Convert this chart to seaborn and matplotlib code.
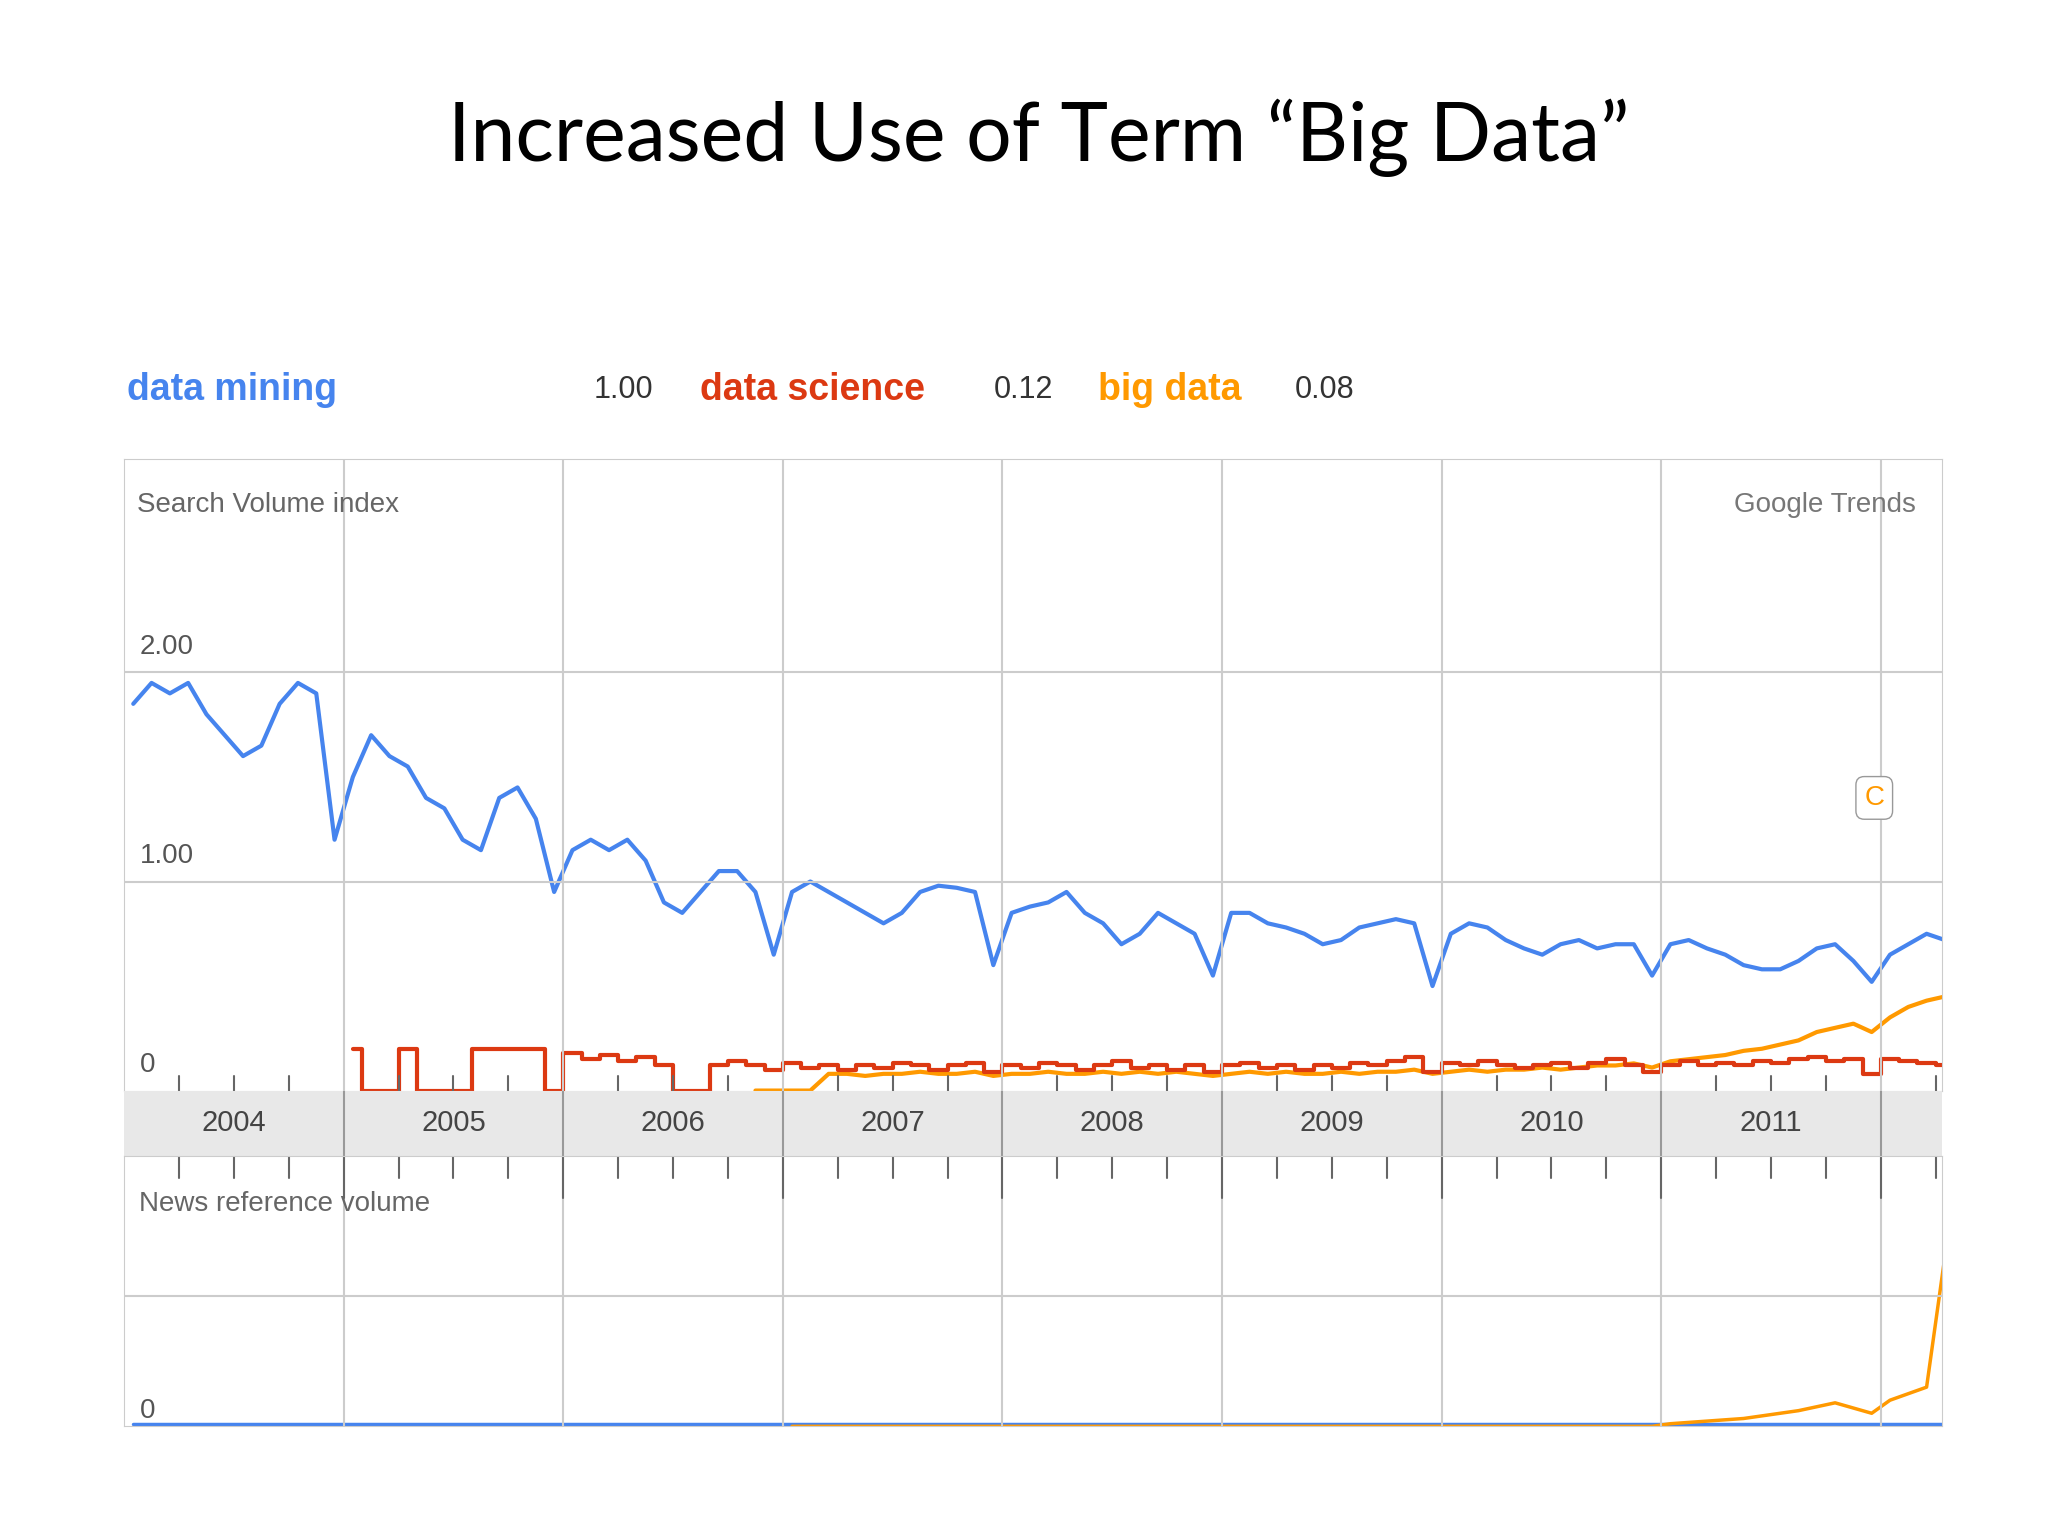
import numpy as np
import pandas as pd
import matplotlib.pyplot as plt
import seaborn as sns

# monthly values (search volume index)
data_mining = [
    1.85, 1.95, 1.90, 1.95, 1.80, 1.70, 1.60, 1.65, 1.85, 1.95, 1.90, 1.20,  # 2004
    1.50, 1.70, 1.60, 1.55, 1.40, 1.35, 1.20, 1.15, 1.40, 1.45, 1.30, 0.95,  # 2005
    1.15, 1.20, 1.15, 1.20, 1.10, 0.90, 0.85, 0.95, 1.05, 1.05, 0.95, 0.65,  # 2006
    0.95, 1.00, 0.95, 0.90, 0.85, 0.80, 0.85, 0.95, 0.98, 0.97, 0.95, 0.60,  # 2007
    0.85, 0.88, 0.90, 0.95, 0.85, 0.80, 0.70, 0.75, 0.85, 0.80, 0.75, 0.55,  # 2008
    0.85, 0.85, 0.80, 0.78, 0.75, 0.70, 0.72, 0.78, 0.80, 0.82, 0.80, 0.50,  # 2009
    0.75, 0.80, 0.78, 0.72, 0.68, 0.65, 0.70, 0.72, 0.68, 0.70, 0.70, 0.55,  # 2010
    0.70, 0.72, 0.68, 0.65, 0.60, 0.58, 0.58, 0.62, 0.68, 0.70, 0.62, 0.52,  # 2011
    0.65, 0.70, 0.75, 0.72,                                                  # 2012
]
data_science = [
    np.nan] * 12 + [
    0.20, 0.00, 0.00, 0.20, 0.00, 0.00, 0.00, 0.20, 0.20, 0.20, 0.20, 0.00,  # 2005
    0.18, 0.15, 0.17, 0.14, 0.16, 0.12, 0.00, 0.00, 0.12, 0.14, 0.12, 0.10,  # 2006
    0.13, 0.11, 0.12, 0.10, 0.12, 0.11, 0.13, 0.12, 0.10, 0.12, 0.13, 0.09,  # 2007
    0.12, 0.11, 0.13, 0.12, 0.10, 0.12, 0.14, 0.11, 0.12, 0.10, 0.12, 0.09,  # 2008
    0.12, 0.13, 0.11, 0.12, 0.10, 0.12, 0.11, 0.13, 0.12, 0.14, 0.16, 0.09,  # 2009
    0.13, 0.12, 0.14, 0.12, 0.11, 0.12, 0.13, 0.11, 0.13, 0.15, 0.12, 0.09,  # 2010
    0.12, 0.14, 0.12, 0.13, 0.12, 0.14, 0.13, 0.15, 0.16, 0.14, 0.15, 0.08,  # 2011
    0.15, 0.14, 0.13, 0.12,                                                  # 2012
]
big_data = [np.nan] * 34 + [
    0.00, 0.00,                                                              # 2006 end
    0.00, 0.00, 0.08, 0.08, 0.07, 0.08, 0.08, 0.09, 0.08, 0.08, 0.09, 0.07,  # 2007
    0.08, 0.08, 0.09, 0.08, 0.08, 0.09, 0.08, 0.09, 0.08, 0.09, 0.08, 0.07,  # 2008
    0.08, 0.09, 0.08, 0.09, 0.08, 0.08, 0.09, 0.08, 0.09, 0.09, 0.10, 0.08,  # 2009
    0.09, 0.10, 0.09, 0.10, 0.10, 0.11, 0.10, 0.11, 0.12, 0.12, 0.13, 0.11,  # 2010
    0.14, 0.15, 0.16, 0.17, 0.19, 0.20, 0.22, 0.24, 0.28, 0.30, 0.32, 0.28,  # 2011
    0.35, 0.40, 0.43, 0.45,                                                  # 2012
]
# news reference volume (arbitrary units)
news_blue = [0.02] * 100
news_orange = [np.nan] * 36 + [0.0] * 12 * 4 + [
    0.02, 0.03, 0.04, 0.05, 0.06, 0.08, 0.10, 0.12, 0.15, 0.18, 0.14, 0.10,  # 2011
    0.20, 0.25, 0.30, 1.30,                                                  # 2012
]

years = [str(y) for y in range(2004, 2012)]
BLUE, RED, ORANGE = "#4684ee", "#dc3912", "#ff9900"

x = 2004 + (np.arange(len(data_mining)) + 0.5) / 12
df = pd.DataFrame({"x": x, "mining": data_mining, "science": data_science,
                   "big": big_data, "news_blue": news_blue, "news_orange": news_orange})

sns.set_style("white")
plt.rcParams["font.family"] = ["Liberation Sans", "DejaVu Sans"]

fig = plt.figure(figsize=(20.48, 15.36), dpi=100)
XMIN, XMAX = 2004.0, 2012.28

fig.text(0.507, 0.91, "Increased Use of Term \u201cBig Data\u201d", ha="center", va="center",
         fontsize=58, family="Lato", color="black")

# legend row
legend = [(0.062, "data mining", BLUE, True), (0.29, "1.00", "#333333", False),
          (0.342, "data science", RED, True), (0.485, "0.12", "#333333", False),
          (0.536, "big data", ORANGE, True), (0.632, "0.08", "#333333", False)]
for xp, txt, col, bold in legend:
    fig.text(xp, 0.746, txt, color=col, fontsize=27 if bold else 22,
             fontweight="bold" if bold else "normal", va="center")

grid_kw = dict(color="#cccccc", lw=1.5)

# top panel
ax = fig.add_axes([0.0606, 0.290, 0.8878, 0.411])
for col, c in [("mining", BLUE), ("big", ORANGE), ("science", RED)]:
    sns.lineplot(data=df, x="x", y=col, ax=ax, color=c, lw=3, drawstyle="steps-mid"
                 if col == "science" else "default")
ax.set_xlim(XMIN, XMAX)
ax.set_ylim(0, 3.02)
for yv in [1, 2]:
    ax.axhline(yv, **grid_kw)
for xv in range(2005, 2013):
    ax.axvline(xv, **grid_kw)
for yv, lab in [(2, "2.00"), (1, "1.00"), (0, "0")]:
    ax.text(XMIN + 0.07, yv + 0.06, lab, color="#555555", fontsize=20, va="bottom")
ax.text(XMIN + 0.06, 2.8, "Search Volume index", color="#666666", fontsize=20, va="center")
ax.text(XMAX - 0.12, 2.8, "Google Trends", color="#777777", fontsize=20, va="center", ha="right")
ax.text(2011.97, 1.4, "C", color=ORANGE, fontsize=20, ha="center", va="center",
        bbox=dict(boxstyle="round,pad=0.3", fc="white", ec="#999999"))
ax.set_xlabel("")
ax.set_ylabel("")
ax.set_xticks([])
ax.set_yticks([])
for s in ax.spines.values():
    s.set_color("#cccccc")

# year band
band = fig.add_axes([0.0606, 0.2474, 0.8878, 0.0425])
band.set_facecolor("#e8e8e8")
band.set_xlim(XMIN, XMAX)
band.set_ylim(0, 1)
for i, yr in enumerate(years):
    band.text(2004.5 + i, 0.5, yr, ha="center", va="center", fontsize=21, color="#444444")
for xv in range(2005, 2013):
    band.axvline(xv, color="#999999", lw=1.5)
band.set_xticks([])
band.set_yticks([])
for s in band.spines.values():
    s.set_visible(False)
for q in np.arange(2004.25, 2012.3, 0.25):
    if q % 1:
        ax.plot([q, q], [0, 0.07], color="#666666", lw=1.5)

# bottom panel
bx = fig.add_axes([0.0606, 0.0714, 0.8878, 0.176])
sns.lineplot(data=df, x="x", y="news_blue", ax=bx, color=BLUE, lw=2.5)
sns.lineplot(data=df, x="x", y="news_orange", ax=bx, color=ORANGE, lw=2.5)
bx.set_xlim(XMIN, XMAX)
bx.set_ylim(0, 2.07)
bx.axhline(1, **grid_kw)
for xv in range(2005, 2013):
    bx.axvline(xv, **grid_kw)
for q in np.arange(2004.25, 2012.3, 0.25):
    bx.plot([q, q], [2.07, 1.9 if q % 1 else 1.75], color="#666666", lw=1.5)
bx.text(XMIN + 0.07, 1.7, "News reference volume", color="#666666", fontsize=20, va="center")
bx.text(XMIN + 0.07, 0.02, "0", color="#555555", fontsize=20, va="bottom")
bx.set_xlabel("")
bx.set_ylabel("")
bx.set_xticks([])
bx.set_yticks([])
for s in bx.spines.values():
    s.set_color("#cccccc")

fig.savefig("out.png", dpi=100, facecolor="white")
